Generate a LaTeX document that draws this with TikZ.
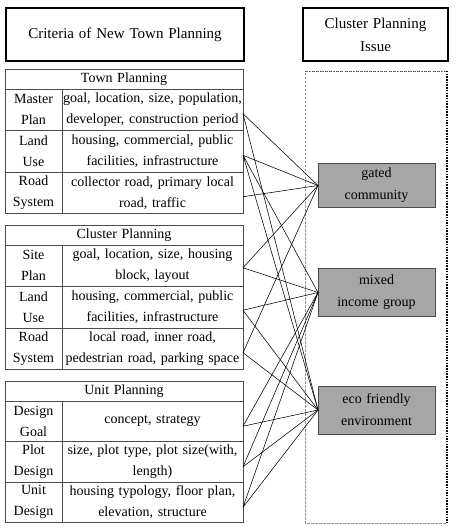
\documentclass[tikz,border=0pt]{standalone}
\usepackage{fontspec}
\setmainfont{Liberation Serif}[WordSpace=1.3]
\usepackage{tikz}
\usetikzlibrary{positioning, calc}
\definecolor{rulegray}{RGB}{75,75,75}
\definecolor{issuegray}{RGB}{166,166,166}
\definecolor{framegray}{RGB}{150,150,150}

\tikzset{
  titlebox/.style={draw, line width=1.8pt, minimum height=53pt, align=center, inner sep=0pt, outer sep=0pt, font=\fontsize{15}{23}\selectfont},
  hdr/.style={draw=rulegray, line width=0.8pt, minimum width=238pt, minimum height=20pt, inner sep=0pt, outer sep=0pt, font=\fontsize{14}{21}\selectfont},
  lbl/.style={draw=rulegray, line width=0.8pt, minimum width=57pt, minimum height=#1, text width=55pt, align=center, inner sep=1pt, outer sep=0pt, font=\fontsize{14}{21}\selectfont},
  lbl/.default=41.5pt,
  cnt/.style={draw=rulegray, line width=0.8pt, minimum width=181pt, minimum height=#1, text width=179pt, align=center, inner sep=1pt, outer sep=0pt, font=\fontsize{14}{21}\selectfont},
  cnt/.default=41.5pt,
  issue/.style={draw=rulegray, fill=issuegray, line width=0.8pt, minimum width=117pt, align=center, inner sep=0pt, outer sep=0pt, font=\fontsize{14}{22}\selectfont},
  link/.style={line width=0.55pt}
}

\begin{document}
\begin{tikzpicture}[x=1pt, y=1pt]
\useasboundingbox (0,0) rectangle (455,-529);

\node[titlebox, minimum width=238pt, anchor=north west] (crit) at (6,-8) {Criteria of New Town Planning};
\node[titlebox, minimum width=145pt, anchor=north west] (cpi) at (303,-8) {Cluster Planning\\Issue};

\coordinate (fnw) at (305,-71);
\coordinate (fne) at (447,-71);
\coordinate (fse) at (447,-523);
\coordinate (fsw) at (305,-523);
\draw[framegray, line width=0.8pt, dash pattern=on 2.5pt off 1.5pt] (fne) -- (fnw) -- (fsw) -- (fse);
\draw[rulegray, line width=0.9pt, dash pattern=on 1pt off 1.2pt] (fnw) -- (fne);
\draw[line width=1.6pt, dash pattern=on 1.5pt off 1.2pt] (fne) -- (fse);

\node[hdr, anchor=north west] (tp) at (5,-69) {Town Planning};
\node[lbl, below right=0pt and 0pt of tp.south west] (tp1l) {Master\\Plan};
\node[cnt, right=0pt of tp1l] (tp1) {goal, location, size, population,\\developer, construction period};
\node[lbl, below=0pt of tp1l] (tp2l) {Land\\Use};
\node[cnt, right=0pt of tp2l] (tp2) {housing, commercial, public\\facilities, infrastructure};
\node[lbl, below=0pt of tp2l] (tp3l) {Road\\System};
\node[cnt, right=0pt of tp3l] (tp3) {collector road, primary local\\road, traffic};

\node[hdr, anchor=north west] (cp) at (5,-225) {Cluster Planning};
\node[lbl, below right=0pt and 0pt of cp.south west] (cp1l) {Site\\Plan};
\node[cnt, right=0pt of cp1l] (cp1) {goal, location, size, housing\\block, layout};
\node[lbl, below=0pt of cp1l] (cp2l) {Land\\Use};
\node[cnt, right=0pt of cp2l] (cp2) {housing, commercial, public\\facilities, infrastructure};
\node[lbl, below=0pt of cp2l] (cp3l) {Road\\System};
\node[cnt, right=0pt of cp3l] (cp3) {local road, inner road,\\pedestrian road, parking space};

\node[hdr, anchor=north west] (up) at (5,-381) {Unit Planning};
\node[lbl=40.5pt, below right=0pt and 0pt of up.south west] (up1l) {Design\\Goal};
\node[cnt=40.5pt, right=0pt of up1l] (up1) {concept, strategy};
\node[lbl=40.5pt, below=0pt of up1l] (up2l) {Plot\\Design};
\node[cnt=40.5pt, right=0pt of up2l] (up2) {size, plot type, plot size(with,\\length)};
\node[lbl=40.5pt, below=0pt of up2l] (up3l) {Unit\\Design};
\node[cnt=40.5pt, right=0pt of up3l] (up3) {housing typology, floor plan,\\elevation, structure};

\node[issue, minimum height=44pt] (gc) at (376.5,-185.5) {gated\\community};
\node[issue, minimum height=48pt] (mi) at (376.5,-292.5) {mixed\\income group};
\node[issue, minimum height=48pt] (ec) at (376.5,-410) {eco friendly\\environment};

\draw[link] ([yshift=-4pt]tp1.east) -- (gc.west) ([yshift=-4pt]tp1.east) -- (ec.west);
\draw[link] ([yshift=-4pt]tp2.east) -- (gc.west) ([yshift=-4pt]tp2.east) -- (mi.west) ([yshift=-4pt]tp2.east) -- (ec.west);
\draw[link] ([yshift=-4pt]tp3.east) -- (gc.west);
\draw[link] ([yshift=-2pt]cp1.east) -- (gc.west) ([yshift=-2pt]cp1.east) -- (mi.west);
\draw[link] ([yshift=-3pt]cp2.east) -- (mi.west) ([yshift=-3pt]cp2.east) -- (ec.west);
\draw[link] ([yshift=-4pt]cp3.east) -- (gc.west) ([yshift=-4pt]cp3.east) -- (ec.west);
\draw[link] ([yshift=-5pt]up1.east) -- (mi.west) ([yshift=-5pt]up1.east) -- (ec.west);
\draw[link] ([yshift=-5pt]up2.east) -- (mi.west) ([yshift=-5pt]up2.east) -- (ec.west);
\draw[link] ([yshift=-5pt]up3.east) -- (mi.west) ([yshift=-5pt]up3.east) -- (ec.west);
\end{tikzpicture}
\end{document}
